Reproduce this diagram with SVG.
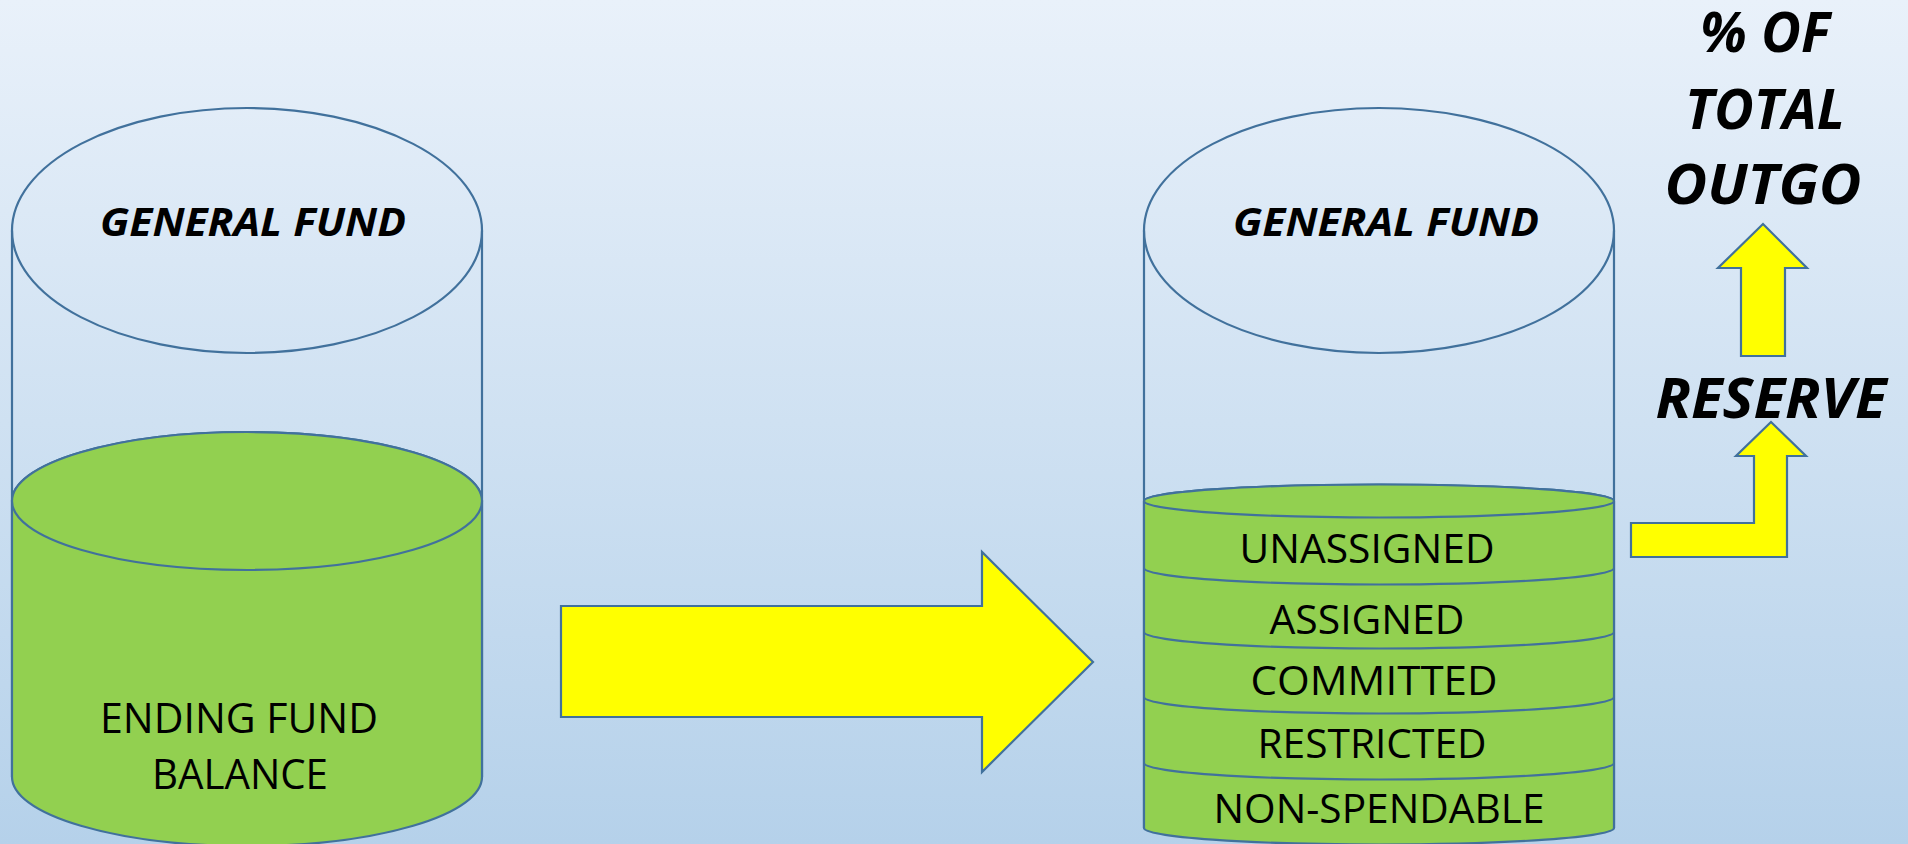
<svg xmlns="http://www.w3.org/2000/svg" width="1908" height="844" viewBox="0 0 1908 844">
  <defs>
    <linearGradient id="bg" x1="0" y1="0" x2="0" y2="1">
      <stop offset="0" stop-color="#e9f1fa"/>
      <stop offset="1" stop-color="#b5d1ea"/>
    </linearGradient>
  </defs>
  <style>
    .edge { stroke: #41719c; stroke-width: 2.2; stroke-linejoin: miter; }
    .glass { fill: none; }
    .liquid { fill: #92d050; }
    .arrow { fill: #ffff00; stroke: #41719c; stroke-width: 2.2; }
    .lbl { font-family: "Open Sans", "Liberation Sans", sans-serif; fill: #000; text-anchor: middle; }
    .head { font-family: "Open Sans", "Liberation Sans", sans-serif; font-weight: bold; font-style: italic; fill: #000; text-anchor: middle; }
  </style>

  <rect width="1908" height="844" fill="url(#bg)"/>

  <!-- left fund: glass cylinder holding the ending balance -->
  <g id="fund-left">
    <path class="edge glass" d="M12,230.5 L12,777 M482,230.5 L482,777"/>
    <ellipse class="edge glass" cx="247" cy="230.5" rx="235" ry="122.5"/>
    <text class="head" x="253" y="236" font-size="40" textLength="306" lengthAdjust="spacingAndGlyphs">GENERAL FUND</text>
    <g id="balance">
      <path class="edge liquid" d="M12,501 L12,777 A235,69 0 0 0 482,777 L482,501 A235,69 0 0 0 12,501 Z"/>
      <ellipse class="edge liquid" cx="247" cy="501" rx="235" ry="69"/>
      <text class="lbl" x="239" y="733" font-size="42" textLength="278" lengthAdjust="spacingAndGlyphs">ENDING FUND</text>
      <text class="lbl" x="240" y="789" font-size="42" textLength="176" lengthAdjust="spacingAndGlyphs">BALANCE</text>
    </g>
  </g>

  <!-- right fund: glass cylinder with stacked components -->
  <g id="fund-right">
    <path class="edge glass" d="M1144,230.5 L1144,828 M1614,230.5 L1614,828"/>
    <ellipse class="edge glass" cx="1379" cy="230.5" rx="235" ry="122.5"/>
    <text class="head" x="1386" y="236" font-size="40" textLength="306" lengthAdjust="spacingAndGlyphs">GENERAL FUND</text>
  </g>

  <g id="non-spendable">
    <path class="edge liquid" d="M1144,763 L1144,828 A235,16.5 0 0 0 1614,828 L1614,763 A235,16.5 0 0 0 1144,763 Z"/>
    <text class="lbl" x="1379" y="823" font-size="40" textLength="331" lengthAdjust="spacingAndGlyphs">NON-SPENDABLE</text>
  </g>
  <g id="restricted">
    <path class="edge liquid" d="M1144,697 L1144,763 A235,16.5 0 0 0 1614,763 L1614,697 A235,16.5 0 0 0 1144,697 Z"/>
    <text class="lbl" x="1372" y="758" font-size="40" textLength="229" lengthAdjust="spacingAndGlyphs">RESTRICTED</text>
  </g>
  <g id="committed">
    <path class="edge liquid" d="M1144,632 L1144,697 A235,16.5 0 0 0 1614,697 L1614,632 A235,16.5 0 0 0 1144,632 Z"/>
    <text class="lbl" x="1374" y="695" font-size="40" textLength="247" lengthAdjust="spacingAndGlyphs">COMMITTED</text>
  </g>
  <g id="assigned">
    <path class="edge liquid" d="M1144,568 L1144,632 A235,16.5 0 0 0 1614,632 L1614,568 A235,16.5 0 0 0 1144,568 Z"/>
    <text class="lbl" x="1367" y="634" font-size="40" textLength="195" lengthAdjust="spacingAndGlyphs">ASSIGNED</text>
  </g>
  <g id="unassigned">
    <path class="edge liquid" d="M1144,501 L1144,568 A235,16.5 0 0 0 1614,568 L1614,501 A235,16.5 0 0 0 1144,501 Z"/>
    <ellipse class="edge liquid" cx="1379" cy="501" rx="235" ry="16.5"/>
    <text class="lbl" x="1367" y="563" font-size="40" textLength="255" lengthAdjust="spacingAndGlyphs">UNASSIGNED</text>
  </g>

  <!-- labels on the right -->
  <g id="outgo">
    <text class="head" x="1765" y="52" font-size="55" textLength="130" lengthAdjust="spacingAndGlyphs">% OF</text>
    <text class="head" x="1765" y="129" font-size="55" textLength="160" lengthAdjust="spacingAndGlyphs">TOTAL</text>
    <text class="head" x="1763" y="204" font-size="55" textLength="197" lengthAdjust="spacingAndGlyphs">OUTGO</text>
  </g>
  <g id="reserve">
    <text class="head" x="1771" y="418" font-size="56" textLength="231" lengthAdjust="spacingAndGlyphs">RESERVE</text>
  </g>

  <!-- connectors -->
  <g id="connectors">
    <path class="arrow" d="M561,606 L982,606 L982,552 L1093,662 L982,772 L982,717 L561,717 Z"/>
    <path class="arrow" d="M1631,523 L1754,523 L1754,456 L1736,456 L1771,422 L1806,456 L1787,456 L1787,557 L1631,557 Z"/>
    <path class="arrow" d="M1741,356 L1741,268 L1718,268 L1763,224 L1807,268 L1785,268 L1785,356 Z"/>
  </g>
</svg>
